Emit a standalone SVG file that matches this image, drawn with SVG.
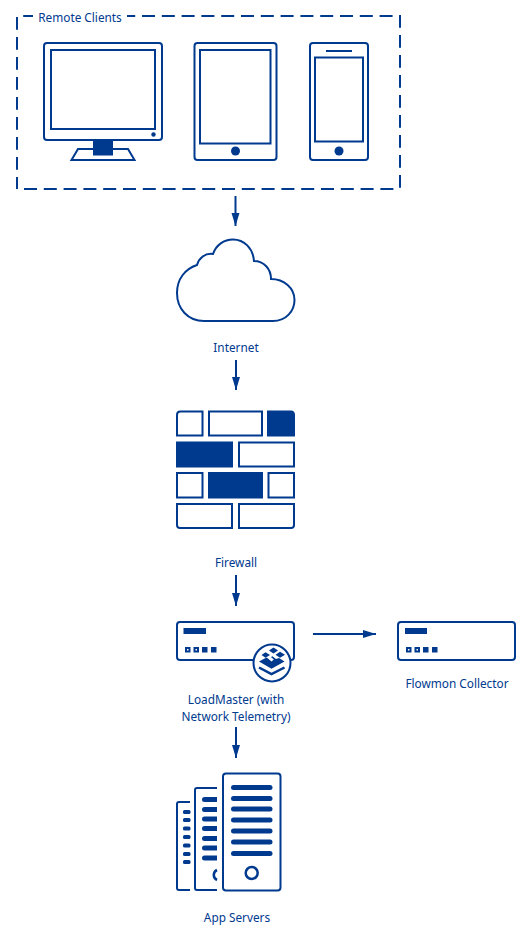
<svg xmlns="http://www.w3.org/2000/svg" width="530" height="940" viewBox="0 0 530 940">
<defs>
<style>
.o{fill:none;stroke:#003a8f;stroke-width:2}
.w{fill:#fff;stroke:#003a8f;stroke-width:2}
.f{fill:#003a8f;stroke:none}
.c{fill:none;stroke:#003a8f;stroke-width:2}
.d{fill:none;stroke:#003a8f;stroke-width:2;stroke-dasharray:13 6.800}
.t{font-family:"Noto Sans",sans-serif;font-size:11.800px;fill:#003a8f;text-anchor:middle}
.h{fill:#003a8f}
</style>
<marker id="a" markerUnits="userSpaceOnUse" markerWidth="14" markerHeight="10" refX="13" refY="5" orient="auto"><path class="h" d="M0,1 L13,5 L0,9 Z"/></marker>
</defs>
<rect width="530" height="940" fill="#fff"/>
<g id="remote-clients">
<path class="d" d="M23.200,16 H394"/>
<path class="d" d="M24,189 H394"/>
<path class="d" d="M17,17 V189" style="stroke-dasharray:12.700 7.300"/>
<path class="d" d="M400,15 V188" style="stroke-dasharray:12.700 7.300"/>
<rect x="33" y="8" width="94" height="18" fill="#fff"/>
<text class="t" x="80" y="21.500">Remote Clients</text>
</g>
<g id="monitor">
<rect class="o" x="44" y="43" width="118" height="97" rx="3"/>
<rect class="o" x="51" y="50" width="104" height="79"/>
<circle class="f" cx="153.500" cy="134.500" r="2.200"/>
<path class="o" d="M71.500,160 L78,149 H128 L134.500,160 Z"/>
<rect class="f" x="93" y="140" width="20" height="15.500"/>
</g>
<g id="tablet">
<rect class="o" x="194.500" y="43" width="82" height="117" rx="3"/>
<rect class="o" x="200" y="50" width="70.500" height="93.500"/>
<circle class="f" cx="235.500" cy="151" r="4.500"/>
</g>
<g id="phone">
<rect class="o" x="310" y="43" width="58" height="117" rx="3"/>
<path class="o" d="M326,51 H352"/>
<rect class="o" x="315" y="57.500" width="48" height="84"/>
<circle class="f" cx="339" cy="151" r="4.500"/>
</g>
<g id="internet">
<path class="o" d="M204,321 H273 C286,321 294.500,311 294.500,300 C294.500,288 284,279 271,279 C271,269 264,261 254,261 C253,248 244,239.500 233,239.500 C224,239.500 216,245 213,254 C205,253 199,258 197,265 C185,269 177,279 177,293 C177,309 188,321 204,321 Z"/>
<text class="t" x="236" y="351.500">Internet</text>
</g>
<g id="firewall">
<path class="o" d="M180,411.500 H202.500 V435.500 H177 V415 Q177,411.500 180,411.500 Z"/>
<rect class="o" x="209" y="411.500" width="53" height="24"/>
<path class="f" d="M267,410.500 H291 Q295,410.500 295,415 V436.500 H267 Z"/>
<rect class="f" x="176" y="441.500" width="57" height="26"/>
<rect class="o" x="239" y="442.500" width="55" height="24"/>
<rect class="o" x="177" y="473" width="25.500" height="24.500"/>
<rect class="f" x="208" y="472" width="55" height="26.500"/>
<rect class="o" x="268.500" y="473" width="25.500" height="24.500"/>
<path class="o" d="M177,504 H232 V528 H180 Q177,528 177,525 Z"/>
<path class="o" d="M239,504 H294 V525 Q294,528 291,528 H239 Z"/>
<text class="t" x="236" y="566.500">Firewall</text>
</g>
<g id="loadmaster">
<rect class="o" x="177" y="622" width="117" height="38" rx="3"/>
<rect class="f" x="183.500" y="628" width="22.500" height="6"/>
<rect class="f" x="185" y="647" width="5.500" height="5.500"/>
<rect class="f" x="193.500" y="647" width="5.500" height="5.500"/>
<rect class="f" x="202" y="647" width="5.500" height="5.500"/>
<rect class="f" x="211" y="647" width="5.500" height="5.500"/>
<rect x="187" y="649" width="1.500" height="1.500" fill="#fff"/>
<rect x="195.500" y="649" width="1.500" height="1.500" fill="#fff"/>
<circle class="w" cx="272" cy="663" r="18.500"/>
<path class="f" d="M273.500,647.500 L278,650.500 L273.500,653.500 L269,650.500 Z"/>
<path class="f" d="M280,651.800 L285,654.800 L280,657.800 L275.500,654.800 Z"/>
<path class="f" d="M265.500,652.300 L270,655 L265.500,657.800 L261.500,655 Z"/>
<path class="f" d="M259,661.500 L266.500,657.500 L270,660 L272,656 L276,659 L279,658 L284.500,661.500 L271.500,668.800 Z"/>
<path d="M271.500,657.500 L273.800,659.500 L271.500,661.500 L269.200,659.500 Z" fill="#fff"/>
<path d="M259,667.500 L271.500,674 L284.500,667.500" fill="none" stroke="#003a8f" stroke-width="2.500"/>
<text class="t" x="236" y="704">LoadMaster (with</text>
<text class="t" x="236" y="720.500">Network Telemetry)</text>
</g>
<g id="flowmon-collector">
<rect class="o" x="398" y="622" width="117" height="38" rx="3"/>
<rect class="f" x="405" y="628" width="22" height="6"/>
<rect class="f" x="406" y="647" width="5.500" height="5.500"/>
<rect class="f" x="414.500" y="647" width="5.500" height="5.500"/>
<rect class="f" x="423" y="647" width="5.500" height="5.500"/>
<rect class="f" x="432" y="647" width="5.500" height="5.500"/>
<rect x="408" y="649" width="1.500" height="1.500" fill="#fff"/>
<rect x="416.500" y="649" width="1.500" height="1.500" fill="#fff"/>
<text class="t" x="457" y="688">Flowmon Collector</text>
</g>
<g id="app-servers">
<path class="o" d="M190,802 H179 Q177,802 177,804 V888 Q177,890 179,890 H190"/>
<g class="f">
<rect x="183" y="810" width="7.500" height="4" rx="1.500"/>
<rect x="183" y="818" width="7.500" height="4" rx="1.500"/>
<rect x="183" y="826.500" width="7.500" height="4" rx="1.500"/>
<rect x="183" y="835" width="7.500" height="4" rx="1.500"/>
<rect x="183" y="843.500" width="7.500" height="4" rx="1.500"/>
<rect x="183" y="852" width="7.500" height="4" rx="1.500"/>
<rect x="183" y="860" width="7.500" height="4" rx="1.500"/>
</g>
<path class="o" d="M217,788 H197 Q195,788 195,790 V888 Q195,890 197,890 H217"/>
<g class="f">
<path d="M204.500,797 H217 V802 H204.500 A2.500,2.500 0 0 1 204.500,797 Z"/>
<path d="M204.500,807 H217 V812 H204.500 A2.500,2.500 0 0 1 204.500,807 Z"/>
<path d="M204.500,816.500 H217 V821.500 H204.500 A2.500,2.500 0 0 1 204.500,816.500 Z"/>
<path d="M204.500,826 H217 V831 H204.500 A2.500,2.500 0 0 1 204.500,826 Z"/>
<path d="M204.500,836 H217 V841 H204.500 A2.500,2.500 0 0 1 204.500,836 Z"/>
<path d="M204.500,845.500 H217 V850.500 H204.500 A2.500,2.500 0 0 1 204.500,845.500 Z"/>
<path d="M204.500,855.500 H217 V860.500 H204.500 A2.500,2.500 0 0 1 204.500,855.500 Z"/>
</g>
<path d="M217,870 A5.500,5.500 0 0 0 217,880" fill="none" stroke="#003a8f" stroke-width="2.500"/>
<rect class="w" x="223" y="773.500" width="57.500" height="117" rx="3"/>
<g class="f">
<rect x="231" y="785" width="41.500" height="5" rx="2.500"/>
<rect x="231" y="796" width="41.500" height="5" rx="2.500"/>
<rect x="231" y="806.500" width="41.500" height="5" rx="2.500"/>
<rect x="231" y="817.500" width="41.500" height="5" rx="2.500"/>
<rect x="231" y="828.500" width="41.500" height="5" rx="2.500"/>
<rect x="231" y="839.500" width="41.500" height="5" rx="2.500"/>
<rect x="231" y="851" width="41.500" height="5" rx="2.500"/>
</g>
<circle cx="251.700" cy="873" r="6" fill="none" stroke="#003a8f" stroke-width="2.500"/>
<text class="t" x="237" y="922">App Servers</text>
</g>
<g id="connectors">
<path class="c" d="M235.500,196 V226" marker-end="url(#a)"/>
<path class="c" d="M236,360 V390" marker-end="url(#a)"/>
<path class="c" d="M236,575 V606" marker-end="url(#a)"/>
<path class="c" d="M236,727 V758" marker-end="url(#a)"/>
<path class="c" d="M313,634 H376" marker-end="url(#a)"/>
</g>
</svg>
